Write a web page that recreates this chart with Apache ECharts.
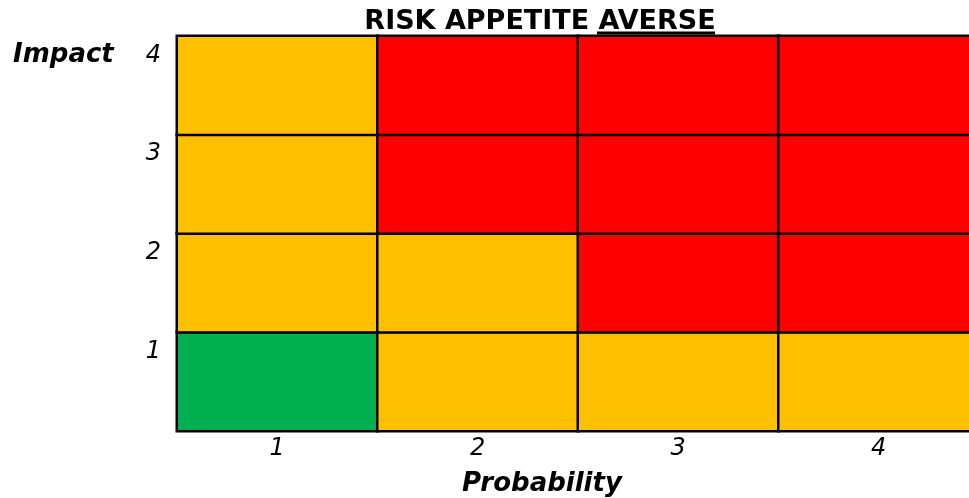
<!DOCTYPE html>
<html><head><meta charset="utf-8">
<script src="https://cdn.jsdelivr.net/npm/echarts@6/dist/echarts.min.js"></script>
<style>html,body{margin:0;padding:0;background:#fff;overflow:hidden}#c{width:980px;height:498px}</style>
</head><body><div id="c"></div>
<script>
const probability = ['1','2','3','4'];
const impact = ['1','2','3','4'];
// risk level per cell: 0 = low (green), 1 = medium (amber), 2 = high (red)
const impact1 = [0,1,1,1];
const impact2 = [1,1,2,2];
const impact3 = [1,2,2,2];
const impact4 = [1,2,2,2];
const rows = [impact1, impact2, impact3, impact4];
const data = [];
rows.forEach((r, yi) => r.forEach((v, xi) => data.push([xi, yi, v])));

const FONT = 'DejaVu Sans';
const chart = echarts.init(document.getElementById('c'));
chart.setOption({
  animation: false,
  title: [
    {text: 'RISK APPETITE AVERSE', left: 535, top: 3, textAlign: 'center',
     textStyle: {fontFamily: FONT, fontSize: 27, fontWeight: 'bold', color: '#000'}},
    {text: 'Impact', left: 8, top: 37,
     textStyle: {fontFamily: FONT, fontSize: 26, fontWeight: 'bold', fontStyle: 'italic', color: '#000'}},
    {text: 'Probability', left: 537, top: 466, textAlign: 'center',
     textStyle: {fontFamily: FONT, fontSize: 26, fontWeight: 'bold', fontStyle: 'italic', color: '#000'}}
  ],
  graphic: [
    {type: 'rect', shape: {x: 597, y: 31.5, width: 118, height: 3}, style: {fill: '#000'}}
  ],
  grid: {left: 177, top: 36, right: 1, height: 395},
  xAxis: {type: 'category', data: probability, axisLine: {show: false}, axisTick: {show: false},
    splitArea: {show: false},
    axisLabel: {fontFamily: FONT, fontSize: 24, fontStyle: 'italic', color: '#000', margin: 6}},
  yAxis: {type: 'category', data: impact, axisLine: {show: false}, axisTick: {show: false},
    splitArea: {show: false},
    axisLabel: {fontFamily: FONT, fontSize: 24, fontStyle: 'italic', color: '#000', margin: 16,
      lineHeight: 30, formatter: v => v + '\n\n'}},
  visualMap: {show: false, type: 'piecewise', dimension: 2,
    pieces: [{value: 0, color: '#00B050'}, {value: 1, color: '#FFC000'}, {value: 2, color: '#FF0000'}]},
  series: [{type: 'heatmap', data: data, label: {show: false},
    itemStyle: {borderColor: '#000', borderWidth: 2.5},
    emphasis: {disabled: true}}]
});
</script></body></html>
